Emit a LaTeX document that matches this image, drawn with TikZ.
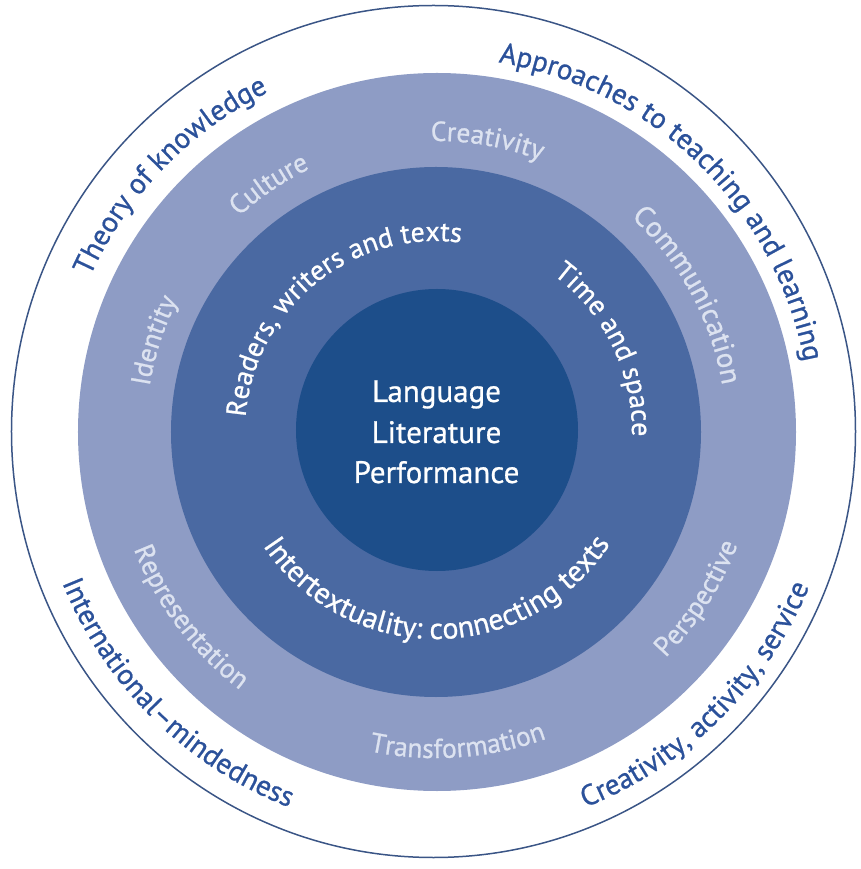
\documentclass[tikz,border=0pt]{standalone}
\usepackage{fontspec}
\setmainfont{PT Sans}[FakeBold=0.8]
\newfontfamily\heavyfont{PT Sans}[FakeBold=0.8]
\usetikzlibrary{decorations.text}
\definecolor{ringA}{HTML}{8E9CC5}
\definecolor{ringB}{HTML}{4A69A2}
\definecolor{coreC}{HTML}{1D4E8A}
\definecolor{outtxt}{HTML}{2B519A}
\definecolor{edgeC}{HTML}{3A5586}
\definecolor{paletxt}{HTML}{DCE2F0}
\newcommand\outerfont{\heavyfont\fontsize{29}{32}\selectfont}
\newcommand\bandfont{\heavyfont\fontsize{27.5}{30}\selectfont}
\newcommand\bandlarge{\heavyfont\fontsize{29}{30}\selectfont}
\newcommand\midfont{\heavyfont\fontsize{28}{30}\selectfont}
\newcommand\midlarge{\heavyfont\fontsize{30}{30}\selectfont}
\newcommand\cwlabel[4]{%
  \pgfmathsetmacro\myStartA{#1+85}\pgfmathsetmacro\myEndA{#1-85}%
  \path[decorate,decoration={text along path,text align=center,text color=#3,text={#4}}]
    (\myStartA:#2pt) arc[start angle=\myStartA,end angle=\myEndA,radius=#2pt];}
\newcommand\ccwlabel[4]{%
  \pgfmathsetmacro\myStartA{#1-85}\pgfmathsetmacro\myEndA{#1+85}%
  \path[decorate,decoration={text along path,text align=center,text color=#3,text={#4}}]
    (\myStartA:#2pt) arc[start angle=\myStartA,end angle=\myEndA,radius=#2pt];}
\begin{document}
\begin{tikzpicture}[x=1pt,y=1pt]
\tikzset{coretext/.style={anchor=base,text=white,font=\heavyfont\fontsize{31}{36}\selectfont,inner sep=0}}
\useasboundingbox (-436,-437) rectangle (424,432);
% rings
\draw[edgeC,line width=1.5pt] (-2.5,0.5) ellipse [x radius=422pt, y radius=426pt];
\fill[ringA] (1,0) circle [radius=359pt];
\fill[ringB] (0,0) circle [radius=265pt];
\fill[coreC] (1,2) circle [radius=141pt];
% centre
\node[coretext] (core1) at (0.5,30) {Language};
\node[coretext] (core2) at (0.5,-11) {Literature};
\node[coretext] (core3) at (0.5,-51) {Performance};
% outer ring
\cwlabel{136}{379}{outtxt}{|\outerfont|Theory of knowledge}
\cwlabel{45.6}{375}{outtxt}{|\outerfont|Approaches to teaching and learning}
\ccwlabel{225.3}{403}{outtxt}{|\outerfont|International–mindedness}
\ccwlabel{314.6}{404}{outtxt}{|\outerfont|Creativity, activity, service}
% light band
\cwlabel{80}{291}{paletxt}{|\bandfont|Creativity}
\cwlabel{124}{292}{paletxt}{|\bandfont|Culture}
\cwlabel{162}{290}{paletxt}{|\bandfont|Identity}
\cwlabel{28.5}{290}{paletxt}{|\bandlarge|Communication}
\ccwlabel{217}{324}{paletxt}{|\bandfont|Representation}
\ccwlabel{274}{326}{paletxt}{|\bandfont|Transformation}
\ccwlabel{327.5}{322}{paletxt}{|\bandfont|Perspective}
% middle band
\cwlabel{129}{191}{white}{|\midfont|Readers, writers and texts}
\cwlabel{26}{196}{white}{|\midfont|Time and space}
\ccwlabel{270.3}{207}{white}{|\midlarge|Intertextuality: connecting texts}
\end{tikzpicture}
\end{document}
